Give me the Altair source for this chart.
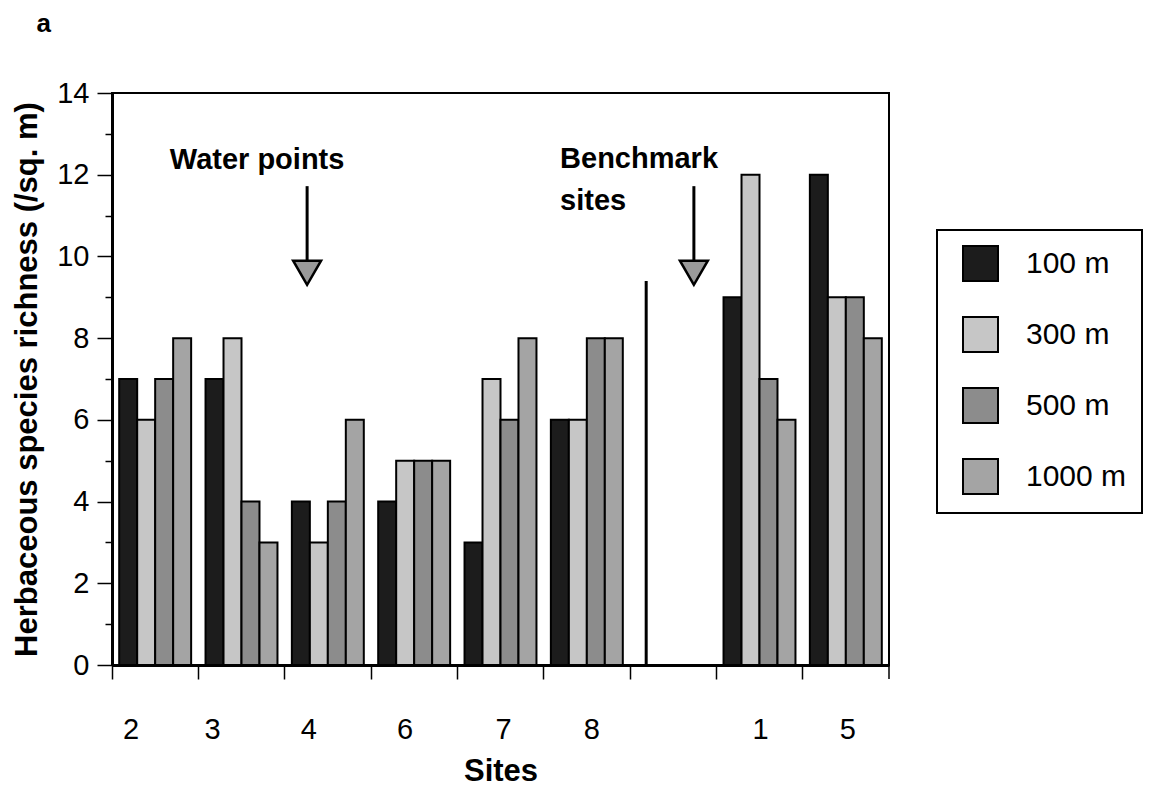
import altair as alt
import pandas as pd

# ---- data ----
sites = ["2", "3", "4", "6", "7", "8", "gap", "1", "5"]
distances = ["100 m", "300 m", "500 m", "1000 m"]
v100 = [7, 7, 4, 4, 3, 6, None, 9, 12]
v300 = [6, 8, 3, 5, 7, 6, None, 12, 9]
v500 = [7, 4, 4, 5, 6, 8, None, 7, 9]
v1000 = [8, 3, 6, 5, 8, 8, None, 6, 8]
fills = ["#1c1c1c", "#c6c6c6", "#8c8c8c", "#a4a4a4"]

# divider between water-point sites and benchmark sites
divider_site = ["gap"]
divider_dist = ["100 m"]
divider_top = [9.4]

# tick-label shifts from slot centre (labels in the original are typed off-centre)
label_offsets = {"2": -24, "3": -29, "4": -19, "6": -9, "7": 3, "8": 5, "1": 1, "5": 2}

# annotations (x in site-slot units, y in richness units)
note_text = ["Water points", "Benchmark\nsites"]
note_x = [0.67, 5.19]
note_y = [12.14, 12.16]
arrow_x = [2.26, 6.74]
arrow_top = [11.72, 11.72]
arrow_bot = [9.85, 9.85]
arrow_head = [9.6, 9.6]

# panel letter
panel_text = ["a"]
panel_x = [-0.79]
panel_y = [15.49]

FONT = "Liberation Sans"
YTITLE = "Herbaceous species richness (/sq. m)"

rows = []
for i, s in enumerate(sites):
    for d, vals in zip(distances, [v100, v300, v500, v1000]):
        if vals[i] is not None:
            rows.append({"site": s, "distance": d, "richness": vals[i]})
df = pd.DataFrame(rows)

div_df = pd.DataFrame({"site": divider_site, "distance": divider_dist, "richness": divider_top})
note_df = pd.DataFrame({"text": note_text, "pos": note_x, "richness": note_y})
shaft_df = pd.DataFrame({"pos": arrow_x, "richness": arrow_top, "bot": arrow_bot})
head_df = pd.DataFrame({"pos": arrow_x, "richness": arrow_head})
end_df = pd.DataFrame({"pos": [9]})
panel_df = pd.DataFrame({"text": panel_text, "pos": panel_x, "richness": panel_y})

off_expr = " : ".join(
    [f"datum.value == '{k}' ? {v}" for k, v in label_offsets.items()]
) + " : 0"

x_scale = alt.Scale(domain=sites, paddingInner=0, paddingOuter=0)
xo_scale = alt.Scale(domain=distances, paddingInner=0, paddingOuter=0.4)
y_scale = alt.Scale(domain=[0, 14], nice=False, zero=True)

x_axis = alt.Axis(
    title="Sites",
    bandPosition=0,
    labelAngle=0,
    labelExpr="datum.value == 'gap' ? '' : datum.label",
    labelOffset={"expr": off_expr},
    tickSize=14,
    tickWidth=1.5,
    tickColor="black",
    domainWidth=3,
    domainColor="black",
    labelFont=FONT,
    labelFontSize=29,
    labelColor="black",
    labelPadding=36,
    titleFont=FONT,
    titleFontSize=31,
    titleFontWeight="bold",
    titleColor="black",
    titlePadding=12,
)

y_axis = alt.Axis(
    title=YTITLE,
    values=[i * 0.5 for i in range(29)],
    labelExpr="datum.value % 2 == 0 ? datum.label : ''",
    tickSize={"condition": {"test": "datum.value % 2 == 0", "value": 15}, "value": 7},
    tickWidth=1.5,
    tickColor="black",
    domainWidth=3,
    domainColor="black",
    grid=False,
    labelFont=FONT,
    labelFontSize=29,
    labelColor="black",
    labelPadding=8,
    labelBaseline="middle",
    titleFont=FONT,
    titleFontSize=31,
    titleFontWeight="bold",
    titleColor="black",
    titlePadding=13,
)

bars = alt.Chart(df).mark_bar(stroke="black", strokeWidth=2).encode(
    x=alt.X("site:N", scale=x_scale, axis=x_axis, sort=sites),
    xOffset=alt.XOffset("distance:N", scale=xo_scale, sort=distances),
    y=alt.Y("richness:Q", scale=y_scale, axis=y_axis),
    color=alt.Color(
        "distance:N",
        scale=alt.Scale(domain=distances, range=fills),
        sort=distances,
        legend=alt.Legend(
            title=None,
            orient="none",
            legendX=825,
            legendY=137,
            symbolType="square",
            symbolSize=1225,
            symbolStrokeColor="black",
            symbolStrokeWidth=2,
            symbolOffset=10,
            labelFont=FONT,
            labelFontSize=30,
            labelColor="black",
            labelOffset=27,
            rowPadding=28,
            padding=15,
            fillColor="white",
            strokeColor="black",
        ),
    ),
)

divider = alt.Chart(div_df).mark_rule(color="black", strokeWidth=3).encode(
    x=alt.X("site:N", scale=x_scale, sort=sites),
    xOffset=alt.XOffset("distance:N", scale=xo_scale, sort=distances),
    y=alt.Y("richness:Q", scale=y_scale, title=YTITLE),
    y2=alt.datum(0),
)

ax_scale = alt.Scale(domain=[0, 9], nice=False, zero=False)

notes = alt.Chart(note_df).mark_text(
    align="left", baseline="alphabetic", font=FONT, fontSize=29,
    fontWeight="bold", color="black", lineBreak="\n", lineHeight=42,
).encode(
    x=alt.X("pos:Q", scale=ax_scale, axis=None),
    y=alt.Y("richness:Q", scale=y_scale, title=YTITLE),
    text="text:N",
)

panel = alt.Chart(panel_df).mark_text(
    align="center", baseline="alphabetic", font=FONT, fontSize=26,
    fontWeight="bold", color="black", clip=False,
).encode(
    x=alt.X("pos:Q", scale=ax_scale, axis=None),
    y=alt.Y("richness:Q", scale=y_scale, title=YTITLE),
    text="text:N",
)

shafts = alt.Chart(shaft_df).mark_rule(color="black", strokeWidth=3).encode(
    x=alt.X("pos:Q", scale=ax_scale, axis=None),
    y=alt.Y("richness:Q", scale=y_scale, title=YTITLE),
    y2="bot:Q",
)

heads = alt.Chart(head_df).mark_point(
    shape="triangle-down", filled=True, fill="#9a9a9a", stroke="black",
    strokeWidth=2.5, size=780, opacity=1,
).encode(
    x=alt.X("pos:Q", scale=ax_scale, axis=None),
    y=alt.Y("richness:Q", scale=y_scale, title=YTITLE),
)

end_tick = alt.Chart(end_df).mark_rule(color="black", strokeWidth=1.5).encode(
    x=alt.X("pos:Q", scale=ax_scale, axis=None),
    y=alt.value(572),
    y2=alt.value(586),
)

main = alt.layer(bars, divider)
annot = alt.layer(notes, panel, shafts, heads, end_tick)

chart = (
    alt.layer(main, annot)
    .resolve_scale(x="independent")
    .properties(
        width=777,
        height=572,
        autosize="none",
        background="white",
        padding={"left": 104, "top": 85, "right": 260, "bottom": 126},
    )
    .configure_view(stroke="black", strokeWidth=2)
    .configure_legend(strokeWidth=2)
)

chart.save("out.html", embed_options={"renderer": "svg", "actions": False})
